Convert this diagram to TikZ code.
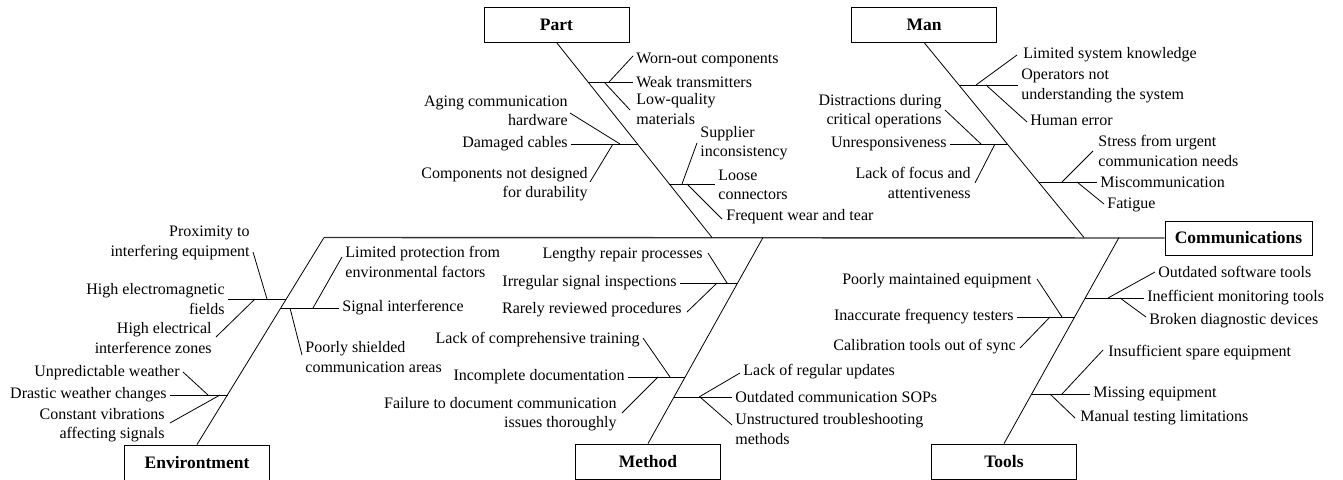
\documentclass[tikz,border=0pt]{standalone}
\usepackage{fontspec}
\setmainfont{Liberation Serif}
\begin{document}
\begin{tikzpicture}[x=1pt,y=-1pt, line width=0.8pt,
 lbl/.style={inner xsep=3pt, inner ysep=0pt, font=\fontsize{16}{19.5}\selectfont},
 lblL/.style={lbl, anchor=west, align=left},
 lblR/.style={lbl, anchor=east, align=right},
 cat/.style={draw, line width=0.9pt, minimum width=145pt, minimum height=35pt, inner sep=0pt, font=\fontsize{17.5}{20}\selectfont\bfseries},
 spine/.style={line width=1.4pt, black!80}]
\useasboundingbox (0,0) rectangle (1343,479);

% category boxes
\node[cat] (part) at (556.5,24.5) {Part};
\node[cat] (man) at (924,24.5) {Man};
\node[cat, minimum width=147pt, minimum height=34pt] (comm) at (1238.5,238) {Communications};
\node[cat] (env) at (197,462.5) {Environtment};
\node[cat] (meth) at (648,461.5) {Method};
\node[cat] (tools) at (1004,461.5) {Tools};

% spine and bones
\coordinate (E1) at (324,237.5);
\coordinate (P1) at (712,237.5);
\coordinate (M1) at (1084,237.5);
\coordinate (Me1) at (763,237.5);
\coordinate (T1) at (1119,237.5);
\draw[spine] (E1) -- (comm.west);
\draw (part.south) -- (P1);
\draw (man.south) -- (M1);
\draw (env.north) -- (E1);
\draw (meth.north) -- (Me1);
\draw (tools.north) -- (T1);

% ---------- Part ----------
\node[lblL] (pa1) at (633,60) {Worn-out components};
\node[lblL] (pa2) at (633,82) {Weak transmitters};
\node[lblL] (pa3) at (633,109) {Low-quality\\materials};
\coordinate (pa0) at (588.3,82);
\coordinate (pa1j) at (609,82); \coordinate (pa1e) at (633,56);
\coordinate (pa3j) at (604,82); \coordinate (pa3e) at (630,110);
\draw (pa0) -- (pa2.west);
\draw (pa1j) -- (pa1e);
\draw (pa3j) -- (pa3e);

\node[lblR] (pb1) at (571,111) {Aging communication\\hardware};
\node[lblR] (pb2) at (571,144) {Damaged cables};
\node[lblR] (pb3) at (591,184) {Components not designed\\for durability};
\coordinate (pb0) at (637.6,144);
\coordinate (pb1j) at (620,144); \coordinate (pb1e) at (570,113);
\coordinate (pb3j) at (613,144); \coordinate (pb3e) at (590,182);
\draw (pb0) -- (pb2.east);
\draw (pb1j) -- (pb1e);
\draw (pb3j) -- (pb3e);

\node[lblL] (pc1) at (697,143) {Supplier\\inconsistency};
\node[lblL] (pc2) at (715,185) {Loose\\connectors};
\node[lblL] (pc3) at (723,217) {Frequent wear and tear};
\coordinate (pc0) at (669.4,184);
\coordinate (pc1j) at (682,184); \coordinate (pc1e) at (697,143);
\coordinate (pc3j) at (687,184); \coordinate (pc3e) at (722,219);
\draw (pc0) -- (pc2.west |- pc0);
\draw (pc1j) -- (pc1e);
\draw (pc3j) -- (pc3e);

% ---------- Man ----------
\node[lblL] (ma1) at (1020,55) {Limited system knowledge};
\node[lblL] (ma2) at (1018,86) {Operators not\\understanding the system};
\node[lblL] (ma3) at (1027,120) {Human error};
\coordinate (ma0) at (959.2,85);
\coordinate (ma1j) at (976,85); \coordinate (ma1e) at (1017,55);
\coordinate (ma3j) at (986,85); \coordinate (ma3e) at (1027,122);
\draw (ma0) -- (ma2.west |- ma0);
\draw (ma1j) -- (ma1e);
\draw (ma3j) -- (ma3e);

\node[lblR] (mb1) at (945,111) {Distractions during\\critical operations};
\node[lblR] (mb2) at (950,144) {Unresponsiveness};
\node[lblR] (mb3) at (974,183) {Lack of focus and\\attentiveness};
\coordinate (mb0) at (1007.5,144);
\coordinate (mb1j) at (981,144); \coordinate (mb1e) at (945,110);
\coordinate (mb3j) at (995,144); \coordinate (mb3e) at (975,183);
\draw (mb0) -- (mb2.east);
\draw (mb1j) -- (mb1e);
\draw (mb3j) -- (mb3e);

\node[lblL] (mc1) at (1095,151) {Stress from urgent\\communication needs};
\node[lblL] (mc2) at (1097,182) {Miscommunication};
\node[lblL] (mc3) at (1104,205) {Fatigue};
\coordinate (mc0) at (1038.5,182);
\coordinate (mc1j) at (1062,182); \coordinate (mc1e) at (1093,151);
\coordinate (mc3j) at (1077,182); \coordinate (mc3e) at (1104,204);
\draw (mc0) -- (mc2.west);
\draw (mc1j) -- (mc1e);
\draw (mc3j) -- (mc3e);

% ---------- Tools ----------
\node[lblL] (ta1) at (1155,272) {Outdated software tools};
\node[lblL] (ta2) at (1144,298) {Inefficient monitoring tools};
\node[lblL] (ta3) at (1146,321) {Broken diagnostic devices};
\coordinate (ta0) at (1085.3,298);
\coordinate (ta1j) at (1108,298); \coordinate (ta1e) at (1155,272);
\coordinate (ta3j) at (1120,298); \coordinate (ta3e) at (1146,317);
\draw (ta0) -- (ta2.west);
\draw (ta1j) -- (ta1e);
\draw (ta3j) -- (ta3e);

\node[lblR] (tb1) at (1035,281) {Poorly maintained equipment};
\node[lblR] (tb2) at (1017,317) {Inaccurate frequency testers};
\node[lblR] (tb3) at (1019,347) {Calibration tools out of sync};
\coordinate (tb0) at (1074.7,317);
\coordinate (tb1j) at (1062,317); \coordinate (tb1e) at (1037,279);
\coordinate (tb3j) at (1050,317); \coordinate (tb3e) at (1020,348);
\draw (tb0) -- (tb2.east);
\draw (tb1j) -- (tb1e);
\draw (tb3j) -- (tb3e);

\node[lblL] (tc1) at (1105,353) {Insufficient spare equipment};
\node[lblL] (tc2) at (1090,394) {Missing equipment};
\node[lblL] (tc3) at (1077,418) {Manual testing limitations};
\coordinate (tc0) at (1031.8,394);
\coordinate (tc1j) at (1062,394); \coordinate (tc1e) at (1103,350);
\coordinate (tc3j) at (1050,394); \coordinate (tc3e) at (1075,418);
\draw (tc0) -- (tc2.west);
\draw (tc1j) -- (tc1e);
\draw (tc3j) -- (tc3e);

% ---------- Method ----------
\node[lblR] (ea1) at (706,255) {Lengthy repair processes};
\node[lblR] (ea2) at (680,283) {Irregular signal inspections};
\node[lblR] (ea3) at (685,310) {Rarely reviewed procedures};
\coordinate (ea0) at (737.7,283);
\coordinate (ea1j) at (727,283); \coordinate (ea1e) at (708,253);
\coordinate (ea3j) at (717,283); \coordinate (ea3e) at (687,312);
\draw (ea0) -- (ea2.east);
\draw (ea1j) -- (ea1e);
\draw (ea3j) -- (ea3e);

\node[lblR] (eb1) at (643,340) {Lack of comprehensive training};
\node[lblR] (eb2) at (628,377) {Incomplete documentation};
\node[lblR] (eb3) at (620,414) {Failure to document communication\\issues thoroughly};
\coordinate (eb0) at (685.3,377);
\coordinate (eb1j) at (670,377); \coordinate (eb1e) at (643,338);
\coordinate (eb3j) at (658,377); \coordinate (eb3e) at (622,413);
\draw (eb0) -- (eb2.east);
\draw (eb1j) -- (eb1e);
\draw (eb3j) -- (eb3e);

\node[lblL] (ec1) at (740,372) {Lack of regular updates};
\node[lblL] (ec2) at (732,397) {Outdated communication SOPs};
\node[lblL] (ec3) at (732,429) {Unstructured troubleshooting\\methods};
\coordinate (ec0) at (674.2,397);
\coordinate (ec1j) at (699,397); \coordinate (ec1e) at (740,373);
\coordinate (ec3j) at (700,397); \coordinate (ec3e) at (732,425);
\draw (ec0) -- (ec2.west);
\draw (ec1j) -- (ec1e);
\draw (ec3j) -- (ec3e);

% ---------- Environment ----------
\node[lblR] (va1) at (253,243) {Proximity to\\interfering equipment};
\node[lblR] (va2) at (228,299) {High electromagnetic\\fields};
\node[lblR] (va3) at (215,338) {High electrical\\interference zones};
\coordinate (va0) at (286.4,299);
\coordinate (va1j) at (267,299); \coordinate (va1e) at (253,252);
\coordinate (va3j) at (255,299); \coordinate (va3e) at (216,337);
\draw (va0) -- (va2.east |- va0);
\draw (va1j) -- (va1e);
\draw (va3j) -- (va3e);

\node[lblL] (vb1) at (342,262) {Limited protection from\\environmental factors};
\node[lblL] (vb2) at (339,308) {Signal interference};
\node[lblL] (vb3) at (302,357) {Poorly shielded\\communication areas};
\coordinate (vb0) at (280.9,308);
\coordinate (vb1j) at (313,308); \coordinate (vb1e) at (342,257);
\coordinate (vb3j) at (290,308); \coordinate (vb3e) at (302,355);
\draw (vb0) -- (vb2.west);
\draw (vb1j) -- (vb1e);
\draw (vb3j) -- (vb3e);

\node[lblR] (vc1) at (183,373) {Unpredictable weather};
\node[lblR] (vc2) at (170,395) {Drastic weather changes};
\node[lblR] (vc3) at (168,425) {Constant vibrations\\affecting signals};
\coordinate (vc0) at (227.6,395);
\coordinate (vc1j) at (208,395); \coordinate (vc1e) at (183,372);
\coordinate (vc3j) at (220,395); \coordinate (vc3e) at (170,423);
\draw (vc0) -- (vc2.east);
\draw (vc1j) -- (vc1e);
\draw (vc3j) -- (vc3e);
\end{tikzpicture}
\end{document}
